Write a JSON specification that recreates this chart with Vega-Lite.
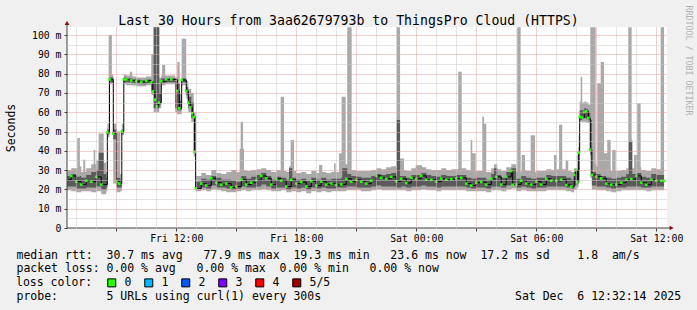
{
  "$schema": "https://vega.github.io/schema/vega-lite/v6.json",
  "width": 600,
  "height": 201,
  "autosize": {"type": "none"},
  "padding": {"left": 67, "top": 27, "right": 30, "bottom": 82},
  "background": "#f0f0f0",
  "config": {
    "view": {"fill": "#ffffff", "stroke": null},
    "font": "DejaVu Sans Mono",
    "axis": {"labelFont": "DejaVu Sans Mono", "titleFont": "DejaVu Sans Mono", "labelColor": "#000000", "titleColor": "#000000", "titleFontWeight": "normal", "labelFlush": false, "labelOverlap": false}
  },
  "datasets": {
    "smoke": [
      {"h":6.5,"mn":19.5,"lo":21.5,"hi":27,"mx":30},
      {"h":6.75,"mn":19,"lo":21.5,"hi":28,"mx":31},
      {"h":7.0,"mn":18.5,"lo":20.5,"hi":26.5,"mx":31},
      {"h":7.05,"mn":18.5,"lo":20.5,"hi":26.5,"mx":46.6},
      {"h":7.18,"mn":18.5,"lo":20.5,"hi":27,"mx":32},
      {"h":7.25,"mn":19,"lo":20.5,"hi":26,"mx":29},
      {"h":7.35,"mn":19,"lo":20.5,"hi":26,"mx":35.4},
      {"h":7.45,"mn":19,"lo":20.5,"hi":26,"mx":29},
      {"h":7.5,"mn":19,"lo":21,"hi":27.5,"mx":31},
      {"h":7.75,"mn":18.5,"lo":21,"hi":29,"mx":33},
      {"h":7.87,"mn":18.5,"lo":21,"hi":29,"mx":40.4},
      {"h":7.95,"mn":18.5,"lo":21,"hi":29,"mx":33},
      {"h":8.0,"mn":19,"lo":21.5,"hi":30,"mx":35},
      {"h":8.12,"mn":19,"lo":21.5,"hi":39,"mx":49},
      {"h":8.25,"mn":17.5,"lo":20,"hi":39,"mx":49},
      {"h":8.37,"mn":17.5,"lo":20,"hi":28,"mx":34},
      {"h":8.5,"mn":19,"lo":21,"hi":26,"mx":29},
      {"h":8.554,"mn":47,"lo":48.5,"hi":51,"mx":54},
      {"h":8.62,"mn":47,"lo":48.5,"hi":51,"mx":100},
      {"h":8.662,"mn":74.5,"lo":75.5,"hi":78,"mx":100},
      {"h":8.78,"mn":74.5,"lo":75.5,"hi":78,"mx":79.5},
      {"h":8.852,"mn":23,"lo":46,"hi":51,"mx":54},
      {"h":9.012,"mn":18.5,"lo":21,"hi":26,"mx":50},
      {"h":9.2,"mn":19,"lo":21,"hi":25,"mx":28},
      {"h":9.277,"mn":48,"lo":49,"hi":51,"mx":54},
      {"h":9.377,"mn":74.5,"lo":75.5,"hi":78,"mx":79.5},
      {"h":9.5,"mn":74,"lo":75.5,"hi":77.5,"mx":79},
      {"h":9.68,"mn":74,"lo":75.5,"hi":77.5,"mx":81},
      {"h":9.8,"mn":73.8,"lo":75,"hi":77,"mx":78.5},
      {"h":10.0,"mn":73.5,"lo":74.8,"hi":76.8,"mx":78},
      {"h":10.25,"mn":73.5,"lo":74.5,"hi":76.5,"mx":78},
      {"h":10.5,"mn":74,"lo":75,"hi":77,"mx":78.5},
      {"h":10.75,"mn":69,"lo":71,"hi":76,"mx":90},
      {"h":10.87,"mn":60,"lo":62,"hi":104,"mx":104},
      {"h":11.15,"mn":62,"lo":64,"hi":70,"mx":78},
      {"h":11.25,"mn":74,"lo":75,"hi":77.5,"mx":79},
      {"h":11.29,"mn":74,"lo":75,"hi":77.5,"mx":84.5},
      {"h":11.45,"mn":74.5,"lo":75.5,"hi":77.5,"mx":79},
      {"h":11.75,"mn":74.5,"lo":75.5,"hi":77.5,"mx":79},
      {"h":11.95,"mn":60,"lo":62,"hi":76,"mx":78},
      {"h":12.05,"mn":59,"lo":61,"hi":75,"mx":86},
      {"h":12.17,"mn":59,"lo":61,"hi":66,"mx":70},
      {"h":12.27,"mn":74,"lo":75.5,"hi":77.5,"mx":98},
      {"h":12.5,"mn":67,"lo":69,"hi":73,"mx":76},
      {"h":12.6,"mn":60,"lo":62,"hi":68,"mx":72},
      {"h":12.75,"mn":55,"lo":57,"hi":65,"mx":70},
      {"h":12.87,"mn":37,"lo":39,"hi":58,"mx":60},
      {"h":12.97,"mn":19,"lo":20.5,"hi":24,"mx":27},
      {"h":13.25,"mn":19.5,"lo":21,"hi":25.5,"mx":28.5},
      {"h":13.5,"mn":19,"lo":20.5,"hi":25,"mx":27.5},
      {"h":13.75,"mn":20,"lo":22,"hi":27,"mx":30},
      {"h":14.0,"mn":19.5,"lo":21,"hi":26,"mx":28.5},
      {"h":14.25,"mn":19,"lo":21,"hi":25,"mx":28},
      {"h":14.5,"mn":18.5,"lo":20.5,"hi":25,"mx":29},
      {"h":14.75,"mn":18.5,"lo":20,"hi":24.5,"mx":30},
      {"h":15.0,"mn":19,"lo":20.5,"hi":24,"mx":29},
      {"h":15.17,"mn":19,"lo":20.5,"hi":24,"mx":41},
      {"h":15.22,"mn":19,"lo":20.5,"hi":24,"mx":55},
      {"h":15.25,"mn":19.5,"lo":21.5,"hi":27,"mx":55},
      {"h":15.34,"mn":19.5,"lo":21.5,"hi":27,"mx":41},
      {"h":15.39,"mn":19.5,"lo":21.5,"hi":27,"mx":30},
      {"h":15.5,"mn":19,"lo":21,"hi":25.5,"mx":29.5},
      {"h":15.75,"mn":19.5,"lo":21,"hi":26.5,"mx":30},
      {"h":16.0,"mn":19.5,"lo":21.5,"hi":27.5,"mx":30.5},
      {"h":16.25,"mn":20,"lo":22.5,"hi":28.5,"mx":31},
      {"h":16.5,"mn":19.5,"lo":21.5,"hi":27,"mx":30},
      {"h":16.75,"mn":19,"lo":20.5,"hi":25,"mx":29},
      {"h":17.0,"mn":19,"lo":21,"hi":26.5,"mx":30},
      {"h":17.22,"mn":19,"lo":21,"hi":26.5,"mx":68},
      {"h":17.25,"mn":19.5,"lo":21,"hi":26,"mx":68},
      {"h":17.39,"mn":19.5,"lo":21,"hi":26,"mx":29.5},
      {"h":17.5,"mn":18.5,"lo":20,"hi":25,"mx":29},
      {"h":17.64,"mn":18.5,"lo":20,"hi":31,"mx":32},
      {"h":17.72,"mn":18.5,"lo":20,"hi":31,"mx":45.6},
      {"h":17.75,"mn":19,"lo":21,"hi":31,"mx":45.6},
      {"h":17.8,"mn":19,"lo":21,"hi":26,"mx":45.6},
      {"h":17.89,"mn":19,"lo":21,"hi":26,"mx":29.5},
      {"h":18.0,"mn":18.5,"lo":20.5,"hi":25,"mx":28.5},
      {"h":18.25,"mn":19,"lo":21,"hi":25.5,"mx":29},
      {"h":18.5,"mn":18,"lo":20,"hi":24.5,"mx":28},
      {"h":18.75,"mn":19,"lo":21,"hi":26,"mx":29.5},
      {"h":19.0,"mn":18.5,"lo":20.5,"hi":25,"mx":28.5},
      {"h":19.14,"mn":18.5,"lo":20.5,"hi":25,"mx":32.6},
      {"h":19.25,"mn":19,"lo":21,"hi":26,"mx":32.6},
      {"h":19.3,"mn":19,"lo":21,"hi":26,"mx":29},
      {"h":19.5,"mn":18.5,"lo":20.5,"hi":25,"mx":28.5},
      {"h":19.75,"mn":19,"lo":20.5,"hi":25.5,"mx":29},
      {"h":19.89,"mn":19,"lo":20.5,"hi":25.5,"mx":33.5},
      {"h":19.97,"mn":19,"lo":20.5,"hi":25.5,"mx":29},
      {"h":20.0,"mn":19,"lo":21,"hi":25.5,"mx":29},
      {"h":20.14,"mn":19,"lo":21,"hi":25.5,"mx":38.7},
      {"h":20.25,"mn":19,"lo":21,"hi":26,"mx":38.7},
      {"h":20.27,"mn":19,"lo":21,"hi":26,"mx":68},
      {"h":20.3,"mn":19,"lo":21,"hi":31,"mx":68},
      {"h":20.47,"mn":19,"lo":21,"hi":31,"mx":33},
      {"h":20.5,"mn":19.5,"lo":21.5,"hi":31,"mx":33},
      {"h":20.55,"mn":19.5,"lo":21.5,"hi":28,"mx":104},
      {"h":20.75,"mn":19.5,"lo":21.5,"hi":27,"mx":104},
      {"h":20.77,"mn":19.5,"lo":21.5,"hi":27,"mx":30},
      {"h":21.0,"mn":19.5,"lo":21,"hi":26.5,"mx":29.5},
      {"h":21.25,"mn":19,"lo":21,"hi":26,"mx":29.5},
      {"h":21.5,"mn":19,"lo":21,"hi":26,"mx":29.5},
      {"h":21.75,"mn":19.5,"lo":21.5,"hi":27,"mx":30},
      {"h":22.0,"mn":20,"lo":22,"hi":28,"mx":31},
      {"h":22.25,"mn":19.5,"lo":21.5,"hi":27.5,"mx":30.5},
      {"h":22.5,"mn":19.5,"lo":21.5,"hi":28,"mx":31.5},
      {"h":22.75,"mn":19.5,"lo":21.5,"hi":28.5,"mx":32},
      {"h":23.0,"mn":19.5,"lo":21,"hi":27,"mx":31},
      {"h":23.02,"mn":19.5,"lo":21,"hi":56,"mx":104},
      {"h":23.19,"mn":19.5,"lo":21,"hi":27,"mx":36},
      {"h":23.25,"mn":19.5,"lo":21.5,"hi":27,"mx":36},
      {"h":23.39,"mn":19.5,"lo":21.5,"hi":27,"mx":30},
      {"h":23.5,"mn":19,"lo":21,"hi":26,"mx":29.5},
      {"h":23.75,"mn":19.5,"lo":21.5,"hi":27.5,"mx":31},
      {"h":23.97,"mn":19.5,"lo":21.5,"hi":27.5,"mx":32.5},
      {"h":24.0,"mn":19.5,"lo":21.5,"hi":27.5,"mx":32.5},
      {"h":24.25,"mn":20,"lo":22,"hi":28.5,"mx":32.5},
      {"h":24.3,"mn":20,"lo":22,"hi":28.5,"mx":31.5},
      {"h":24.5,"mn":19.5,"lo":21.5,"hi":27.5,"mx":30.5},
      {"h":24.75,"mn":19.5,"lo":21.5,"hi":27,"mx":30},
      {"h":25.0,"mn":19,"lo":21,"hi":26.5,"mx":30},
      {"h":25.25,"mn":19.5,"lo":21.5,"hi":27.5,"mx":31},
      {"h":25.5,"mn":19.5,"lo":21.5,"hi":27,"mx":30},
      {"h":25.75,"mn":19.5,"lo":21.5,"hi":27,"mx":30.5},
      {"h":26.0,"mn":19.5,"lo":21.5,"hi":27.5,"mx":30.5},
      {"h":26.1,"mn":19.5,"lo":21.5,"hi":27.5,"mx":81},
      {"h":26.27,"mn":19.5,"lo":21.5,"hi":27.5,"mx":31},
      {"h":26.5,"mn":19,"lo":21,"hi":26,"mx":30},
      {"h":26.72,"mn":19,"lo":21,"hi":26,"mx":45.6},
      {"h":26.75,"mn":19,"lo":20.5,"hi":25.5,"mx":45.6},
      {"h":26.8,"mn":19,"lo":20.5,"hi":25.5,"mx":38.7},
      {"h":26.97,"mn":19,"lo":20.5,"hi":25.5,"mx":29},
      {"h":27.0,"mn":19,"lo":21,"hi":26,"mx":29.5},
      {"h":27.3,"mn":19,"lo":21,"hi":26,"mx":57.7},
      {"h":27.39,"mn":19,"lo":21,"hi":26,"mx":54},
      {"h":27.5,"mn":18.5,"lo":20.5,"hi":25,"mx":29},
      {"h":27.75,"mn":19.5,"lo":21.5,"hi":28,"mx":31},
      {"h":27.89,"mn":19.5,"lo":21.5,"hi":31,"mx":33},
      {"h":28.05,"mn":19.5,"lo":21.5,"hi":27.5,"mx":30.5},
      {"h":28.25,"mn":19,"lo":21,"hi":26,"mx":29.5},
      {"h":28.5,"mn":20,"lo":22,"hi":29,"mx":31.5},
      {"h":28.75,"mn":20.5,"lo":22.5,"hi":31,"mx":33},
      {"h":29.0,"mn":19,"lo":21,"hi":25.5,"mx":29},
      {"h":29.05,"mn":19,"lo":21,"hi":25.5,"mx":104},
      {"h":29.22,"mn":19,"lo":21,"hi":25.5,"mx":29},
      {"h":29.25,"mn":19.5,"lo":21.5,"hi":27,"mx":30},
      {"h":29.27,"mn":19.5,"lo":21.5,"hi":27,"mx":37.8},
      {"h":29.44,"mn":19.5,"lo":21.5,"hi":27,"mx":30},
      {"h":29.5,"mn":19,"lo":21,"hi":26,"mx":29.5},
      {"h":29.72,"mn":19,"lo":21,"hi":26,"mx":48},
      {"h":29.75,"mn":19,"lo":20.5,"hi":25.5,"mx":48},
      {"h":29.94,"mn":19,"lo":20.5,"hi":25.5,"mx":29},
      {"h":30.0,"mn":19,"lo":21,"hi":26,"mx":29.5},
      {"h":30.25,"mn":19,"lo":21,"hi":26,"mx":29.5},
      {"h":30.5,"mn":19.5,"lo":21.5,"hi":27.5,"mx":30.5},
      {"h":30.75,"mn":19.5,"lo":21.5,"hi":27,"mx":30},
      {"h":30.89,"mn":19.5,"lo":21.5,"hi":27,"mx":37.8},
      {"h":31.02,"mn":19.5,"lo":21.5,"hi":27,"mx":30.5},
      {"h":31.14,"mn":19.5,"lo":21.5,"hi":27,"mx":53.5},
      {"h":31.3,"mn":19.5,"lo":21.5,"hi":27,"mx":30.5},
      {"h":31.47,"mn":19.5,"lo":21.5,"hi":27,"mx":35},
      {"h":31.5,"mn":19,"lo":21,"hi":26,"mx":35},
      {"h":31.6,"mn":19,"lo":21,"hi":26,"mx":29.5},
      {"h":31.75,"mn":18.5,"lo":20.5,"hi":25,"mx":29},
      {"h":31.9,"mn":20,"lo":22,"hi":29,"mx":31},
      {"h":32.05,"mn":21,"lo":23,"hi":30,"mx":38},
      {"h":32.12,"mn":24,"lo":30,"hi":42,"mx":48},
      {"h":32.17,"mn":55,"lo":56,"hi":61,"mx":65.5},
      {"h":32.22,"mn":55,"lo":56,"hi":61,"mx":78.4},
      {"h":32.3,"mn":55,"lo":56.5,"hi":61,"mx":65},
      {"h":32.4,"mn":55,"lo":57,"hi":62,"mx":65.5},
      {"h":32.5,"mn":54.5,"lo":56.5,"hi":61.5,"mx":65},
      {"h":32.6,"mn":54.5,"lo":56,"hi":60,"mx":64},
      {"h":32.7,"mn":26,"lo":38,"hi":56,"mx":104},
      {"h":32.78,"mn":20,"lo":22,"hi":29,"mx":104},
      {"h":32.97,"mn":20,"lo":22,"hi":29,"mx":33},
      {"h":33.0,"mn":19.5,"lo":21.5,"hi":28,"mx":32},
      {"h":33.05,"mn":19.5,"lo":21.5,"hi":28,"mx":75},
      {"h":33.22,"mn":19.5,"lo":21.5,"hi":27,"mx":86},
      {"h":33.39,"mn":19.5,"lo":21.5,"hi":27,"mx":38.7},
      {"h":33.5,"mn":19,"lo":21,"hi":26,"mx":38.7},
      {"h":33.55,"mn":19,"lo":21,"hi":26,"mx":45.6},
      {"h":33.72,"mn":19,"lo":21,"hi":26,"mx":29.5},
      {"h":33.75,"mn":18.5,"lo":20.5,"hi":25.5,"mx":29.5},
      {"h":33.8,"mn":18.5,"lo":20.5,"hi":25.5,"mx":40.4},
      {"h":33.97,"mn":18.5,"lo":20.5,"hi":25.5,"mx":29.5},
      {"h":34.0,"mn":19,"lo":21,"hi":26,"mx":29.5},
      {"h":34.25,"mn":19.5,"lo":21,"hi":26.5,"mx":30},
      {"h":34.5,"mn":19.5,"lo":21.5,"hi":28,"mx":31},
      {"h":34.6,"mn":19.5,"lo":21.5,"hi":28,"mx":104},
      {"h":34.63,"mn":19.5,"lo":21.5,"hi":44.7,"mx":104},
      {"h":34.77,"mn":19.5,"lo":21.5,"hi":44.7,"mx":46},
      {"h":34.8,"mn":19.5,"lo":21.5,"hi":28,"mx":31},
      {"h":34.89,"mn":19.5,"lo":21.5,"hi":28,"mx":37.8},
      {"h":35.05,"mn":19.5,"lo":21.5,"hi":28.5,"mx":64.6},
      {"h":35.22,"mn":19.5,"lo":21.5,"hi":28.5,"mx":31.5},
      {"h":35.25,"mn":19.5,"lo":21,"hi":26.5,"mx":30},
      {"h":35.5,"mn":19,"lo":21,"hi":26,"mx":29.5},
      {"h":35.75,"mn":19.5,"lo":21.5,"hi":28,"mx":31},
      {"h":36.0,"mn":19.5,"lo":21.5,"hi":27.5,"mx":30.5},
      {"h":36.22,"mn":19.5,"lo":21.5,"hi":27.5,"mx":104},
      {"h":36.39,"mn":19.5,"lo":21.5,"hi":27,"mx":104}
    ],
    "med": [
      {"h":6.5,"md":25,"loss":"0"},{"h":6.75,"md":27,"loss":"0"},{"h":7.0,"md":24,"loss":"0"},{"h":7.25,"md":22.5,"loss":"0"},
      {"h":7.5,"md":24.5,"loss":"0"},{"h":7.75,"md":24,"loss":"0"},{"h":8.0,"md":26.5,"loss":"0"},{"h":8.25,"md":22.5,"loss":"0"},
      {"h":8.554,"md":49.5,"loss":"0"},{"h":8.662,"md":77,"loss":"0"},{"h":8.852,"md":49,"loss":"0"},{"h":9.012,"md":24,"loss":"0"},
      {"h":9.15,"md":23,"loss":"0"},{"h":9.277,"md":50,"loss":"0"},{"h":9.377,"md":77,"loss":"0"},{"h":9.5,"md":77,"loss":"0"},
      {"h":9.75,"md":76.5,"loss":"0"},{"h":10.0,"md":76,"loss":"0"},{"h":10.25,"md":75.7,"loss":"0"},{"h":10.5,"md":76.3,"loss":"0"},
      {"h":10.75,"md":75.5,"loss":"0"},{"h":10.83,"md":70.8,"loss":"0"},{"h":10.93,"md":66.5,"loss":"0"},{"h":11.03,"md":63,"loss":"0"},
      {"h":11.13,"md":65,"loss":"0"},{"h":11.25,"md":76,"loss":"0"},{"h":11.5,"md":77,"loss":"0"},{"h":11.75,"md":77,"loss":"0"},
      {"h":12.05,"md":71,"loss":"0"},{"h":12.15,"md":62,"loss":"0"},{"h":12.27,"md":76.7,"loss":"0"},{"h":12.5,"md":71,"loss":"0"},
      {"h":12.6,"md":65,"loss":"0"},{"h":12.7,"md":62.5,"loss":"0"},{"h":12.8,"md":59.5,"loss":"0"},{"h":12.87,"md":57.5,"loss":"0"},
      {"h":12.92,"md":39.5,"loss":"0"},{"h":12.97,"md":20.5,"loss":"0"},{"h":13.25,"md":23,"loss":"0"},{"h":13.5,"md":22,"loss":"0"},
      {"h":13.75,"md":25.8,"loss":"0"},{"h":14.0,"md":23.5,"loss":"0"},{"h":14.25,"md":22.4,"loss":"0"},{"h":14.5,"md":23,"loss":"0"},
      {"h":14.75,"md":21,"loss":"0"},{"h":15.0,"md":21.5,"loss":"0"},{"h":15.25,"md":25,"loss":"0"},{"h":15.5,"md":22.5,"loss":"0"},
      {"h":15.75,"md":23.5,"loss":"0"},{"h":16.0,"md":24.8,"loss":"0"},{"h":16.25,"md":27,"loss":"0"},{"h":16.5,"md":25.7,"loss":"0"},
      {"h":16.75,"md":22.5,"loss":"0"},{"h":17.0,"md":25.5,"loss":"0"},{"h":17.25,"md":24.5,"loss":"0"},{"h":17.5,"md":21.5,"loss":"0"},
      {"h":17.75,"md":24.9,"loss":"0"},{"h":18.0,"md":23,"loss":"0"},{"h":18.25,"md":23.8,"loss":"0"},{"h":18.5,"md":21.5,"loss":"0"},
      {"h":18.75,"md":24.2,"loss":"0"},{"h":19.0,"md":22,"loss":"0"},{"h":19.25,"md":24,"loss":"0"},{"h":19.5,"md":22.5,"loss":"0"},
      {"h":19.75,"md":23.1,"loss":"0"},{"h":20.0,"md":22.3,"loss":"0"},{"h":20.25,"md":22.6,"loss":"0"},{"h":20.5,"md":25.5,"loss":"0"},
      {"h":20.75,"md":24,"loss":"0"},{"h":21.0,"md":24.9,"loss":"0"},{"h":21.25,"md":24,"loss":"0"},{"h":21.5,"md":23,"loss":"0"},
      {"h":21.75,"md":24.5,"loss":"0"},{"h":22.0,"md":27,"loss":"0"},{"h":22.25,"md":26,"loss":"0"},{"h":22.5,"md":25.5,"loss":"0"},
      {"h":22.75,"md":26.5,"loss":"0"},{"h":23.0,"md":24.2,"loss":"0"},{"h":23.25,"md":25.5,"loss":"0"},{"h":23.5,"md":23.3,"loss":"0"},
      {"h":23.75,"md":26,"loss":"0"},{"h":24.0,"md":25.5,"loss":"0"},{"h":24.25,"md":27,"loss":"0"},{"h":24.5,"md":25,"loss":"0"},
      {"h":24.75,"md":25,"loss":"0"},{"h":25.0,"md":24,"loss":"0"},{"h":25.25,"md":25.5,"loss":"0"},{"h":25.5,"md":25,"loss":"0"},
      {"h":25.75,"md":25.3,"loss":"0"},{"h":26.0,"md":25.7,"loss":"0"},{"h":26.25,"md":26,"loss":"0"},{"h":26.5,"md":23,"loss":"0"},
      {"h":26.75,"md":22,"loss":"0"},{"h":27.0,"md":23.5,"loss":"0"},{"h":27.25,"md":23.8,"loss":"0"},{"h":27.5,"md":22.5,"loss":"0"},
      {"h":27.75,"md":25.5,"loss":"0"},{"h":28.0,"md":26.5,"loss":"0"},{"h":28.25,"md":22.5,"loss":"0"},{"h":28.5,"md":26.5,"loss":"0"},
      {"h":28.75,"md":29.5,"loss":"0"},{"h":28.82,"md":22.4,"loss":"0"},{"h":29.0,"md":22.6,"loss":"0"},{"h":29.25,"md":24.5,"loss":"0"},
      {"h":29.5,"md":23,"loss":"0"},{"h":29.75,"md":22.5,"loss":"0"},{"h":30.0,"md":24,"loss":"0"},{"h":30.25,"md":22.5,"loss":"0"},
      {"h":30.5,"md":25.5,"loss":"0"},{"h":30.75,"md":24.5,"loss":"0"},{"h":31.0,"md":24.4,"loss":"0"},{"h":31.25,"md":25,"loss":"0"},
      {"h":31.5,"md":22.3,"loss":"0"},{"h":31.75,"md":21.5,"loss":"0"},{"h":31.9,"md":27.5,"loss":"0"},{"h":31.98,"md":30,"loss":"0"},
      {"h":32.05,"md":23.7,"loss":"0"},{"h":32.12,"md":39,"loss":"0"},{"h":32.17,"md":57.5,"loss":"0"},{"h":32.3,"md":57.2,"loss":"0"},
      {"h":32.4,"md":60,"loss":"0"},{"h":32.5,"md":60.5,"loss":"0"},{"h":32.6,"md":57,"loss":"0"},{"h":32.7,"md":40.5,"loss":"0"},
      {"h":32.78,"md":27.5,"loss":"0"},{"h":33.0,"md":26.6,"loss":"0"},{"h":33.25,"md":25.7,"loss":"0"},{"h":33.5,"md":23,"loss":"0"},
      {"h":33.75,"md":22.5,"loss":"0"},{"h":34.0,"md":22.5,"loss":"0"},{"h":34.25,"md":23.5,"loss":"0"},{"h":34.5,"md":25,"loss":"0"},
      {"h":34.75,"md":25.3,"loss":"0"},{"h":35.0,"md":27,"loss":"0"},{"h":35.25,"md":23.5,"loss":"0"},{"h":35.5,"md":22.4,"loss":"0"},
      {"h":35.75,"md":25,"loss":"0"},{"h":36.0,"md":24.5,"loss":"0"},{"h":36.25,"md":24.5,"loss":"0"},{"h":36.39,"md":24.4,"loss":"0"}
    ],
    "axislines": [
      {"h1":6.537,"h2":6.537,"v1":0,"v2":106.3},
      {"h1":6.537,"h2":36.77,"v1":0,"v2":0}
    ],
    "arrows": [
      {"h":6.537,"v":106.3,"dir":"up"},
      {"h":36.77,"v":0,"dir":"right"}
    ]
  },
  "resolve": {"axis": {"x": "independent", "y": "independent"}},
  "layer": [
    {
      "data": {"name": "smoke"},
      "mark": {"type": "area", "interpolate": "step-after", "color": "#a9a9a9", "opacity": 1, "clip": true},
      "encoding": {
        "x": {"field": "h", "type": "quantitative", "scale": {"domain": [6.537, 36.537], "nice": false, "zero": false},
          "axis": {"orient": "bottom", "values": [7,8,10,11,13,14,16,17,19,20,22,23,25,26,28,29,31,32,34,35], "labels": false, "ticks": false, "domain": false, "grid": true, "gridColor": "#c8c8c8", "gridDash": [1,1], "gridWidth": 1, "title": null, "zindex": 1}},
        "y": {"field": "mx", "type": "quantitative", "scale": {"domain": [0, 104.15], "nice": false, "zero": true},
          "axis": {"orient": "left", "values": [5,15,25,35,45,55,65,75,85,95], "labels": false, "ticks": false, "domain": false, "grid": true, "gridColor": "#c8c8c8", "gridDash": [1,1], "gridWidth": 1, "title": null, "zindex": 1}},
        "y2": {"field": "mn"}
      }
    },
    {
      "data": {"name": "smoke"},
      "mark": {"type": "area", "interpolate": "step-after", "color": "#5a5a5a", "opacity": 1, "clip": true},
      "encoding": {
        "x": {"field": "h", "type": "quantitative", "scale": {"domain": [6.537, 36.537], "nice": false, "zero": false},
          "axis": {"orient": "bottom", "values": [9,12,15,18,21,24,27,30,33,36], "domain": false, "grid": true, "gridColor": "#e6a0a0", "gridDash": [1,1], "gridWidth": 1, "ticks": true, "tickSize": 3, "tickColor": "#404040", "labelPadding": 2, "labelFontSize": 9.8,
            "labelExpr": "datum.value==12?'Fri 12:00':datum.value==18?'Fri 18:00':datum.value==24?'Sat 00:00':datum.value==30?'Sat 06:00':datum.value==36?'Sat 12:00':''",
            "title": null, "zindex": 1}},
        "y": {"field": "hi", "type": "quantitative", "scale": {"domain": [0, 104.15], "nice": false, "zero": true},
          "axis": {"orient": "left", "values": [0,10,20,30,40,50,60,70,80,90,100], "domain": false, "grid": true, "gridColor": "#e6a0a0", "gridDash": [1,1], "gridWidth": 1,
            "gridOpacity": {"condition": {"test": "datum.value == 0", "value": 0}, "value": 1},
            "ticks": true, "tickSize": 3, "tickColor": "#404040", "labelPadding": 3, "labelFontSize": 9.8,
            "labelExpr": "datum.value == 0 ? '0' : datum.value + ' m'",
            "title": "Seconds", "titleFontSize": 11.5, "titleAngle": -90, "titleX": -53, "titleY": 100.5, "titleAlign": "center", "titleBaseline": "alphabetic", "zindex": 1}},
        "y2": {"field": "lo"}
      }
    },
    {
      "data": {"name": "med"},
      "mark": {"type": "line", "interpolate": "step-after", "color": "#000000", "strokeWidth": 1, "clip": true},
      "encoding": {
        "x": {"field": "h", "type": "quantitative", "scale": {"domain": [6.537, 36.537], "nice": false, "zero": false},
          "axis": {"orient": "top", "labels": false, "ticks": false, "domain": false, "grid": false,
            "title": "Last 30 Hours from 3aa62679793b to ThingsPro Cloud (HTTPS)", "titleFontSize": 13.2, "titleX": 281, "titleY": -3, "titleAlign": "center", "titleBaseline": "alphabetic"}},
        "y": {"field": "md", "type": "quantitative", "scale": {"domain": [0, 104.15], "nice": false, "zero": true},
          "axis": {"orient": "right", "labels": false, "ticks": false, "domain": false, "grid": false,
            "title": "RRDTOOL / TOBI OETIKER", "titleFontSize": 8.3, "titleColor": "#b0b0b0", "titleAngle": 90, "titleX": 18, "titleY": -22, "titleAlign": "left", "titleBaseline": "alphabetic"}}
      }
    },
    {
      "data": {"name": "med"},
      "mark": {"type": "point", "shape": "square", "filled": true, "size": 7, "opacity": 1, "clip": true},
      "encoding": {
        "x": {"field": "h", "type": "quantitative", "scale": {"domain": [6.537, 36.537], "nice": false, "zero": false},
          "axis": {"orient": "bottom", "labels": false, "ticks": false, "domain": false, "grid": false,
            "title": ["median rtt:\u00a0\u00a030.7 ms avg\u00a0\u00a0\u00a077.9 ms max\u00a0\u00a019.3 ms min\u00a0\u00a0\u00a023.6 ms now\u00a0\u00a017.2 ms sd\u00a0\u00a0\u00a0\u00a01.8\u00a0\u00a0am/s",
                      "packet loss:\u00a00.00 %\u00a0avg\u00a0\u00a0\u00a00.00 %\u00a0max\u00a0\u00a00.00 %\u00a0min\u00a0\u00a0\u00a00.00 %\u00a0now"],
            "titleFontSize": 11.5, "titleLineHeight": 13.8, "titleX": -51, "titleY": 30.2, "titleAlign": "left", "titleBaseline": "alphabetic"}},
        "y": {"field": "md", "type": "quantitative", "scale": {"domain": [0, 104.15], "nice": false, "zero": true}, "axis": null},
        "color": {"field": "loss", "type": "nominal",
          "scale": {"domain": ["0","1","2","3","4","5/5"], "range": ["#26ff00","#00b8ff","#0059ff","#7e00ff","#ff0000","#a10000"]},
          "legend": {"orient": "none", "legendX": -51, "legendY": 250, "direction": "horizontal", "title": "loss color:", "titleOrient": "left",
            "titleFont": "DejaVu Sans Mono", "titleFontSize": 11.5, "titleFontWeight": "normal", "titleColor": "#000000", "titlePadding": 13,
            "labelFont": "DejaVu Sans Mono", "labelFontSize": 11.5, "labelColor": "#000000", "labelOffset": 7, "columnPadding": 10,
            "symbolType": "square", "symbolSize": 64, "symbolStrokeColor": "#000000", "symbolStrokeWidth": 1, "symbolOpacity": 1, "padding": 0}}
      }
    },
    {
      "data": {"name": "axislines"},
      "mark": {"type": "rule", "color": "#404040", "strokeWidth": 1},
      "encoding": {
        "x": {"field": "h1", "type": "quantitative", "scale": {"domain": [6.537, 36.537], "nice": false, "zero": false},
          "axis": {"orient": "bottom", "labels": false, "ticks": false, "domain": false, "grid": false,
            "title": "probe:\u00a0\u00a0\u00a0\u00a0\u00a0\u00a0\u00a05 URLs using curl(1) every 300s\u00a0\u00a0\u00a0\u00a0\u00a0\u00a0\u00a0\u00a0\u00a0\u00a0\u00a0\u00a0\u00a0\u00a0\u00a0\u00a0\u00a0\u00a0\u00a0\u00a0\u00a0\u00a0\u00a0\u00a0\u00a0\u00a0\u00a0\u00a0Sat Dec\u00a0\u00a06 12:32:14 2025",
            "titleFontSize": 11.5, "titleX": -51, "titleY": 71.6, "titleAlign": "left", "titleBaseline": "alphabetic"}},
        "x2": {"field": "h2"},
        "y": {"field": "v1", "type": "quantitative", "scale": {"domain": [0, 104.15], "nice": false, "zero": true}, "axis": null},
        "y2": {"field": "v2"}
      }
    },
    {
      "data": {"name": "arrows"},
      "mark": {"type": "point", "filled": true, "size": 22, "color": "#8b1010", "opacity": 1},
      "encoding": {
        "x": {"field": "h", "type": "quantitative", "scale": {"domain": [6.537, 36.537], "nice": false, "zero": false}, "axis": null},
        "y": {"field": "v", "type": "quantitative", "scale": {"domain": [0, 104.15], "nice": false, "zero": true}, "axis": null},
        "shape": {"field": "dir", "type": "nominal", "scale": {"domain": ["up","right"], "range": ["triangle-up","triangle-right"]}, "legend": null}
      }
    }
  ]
}
